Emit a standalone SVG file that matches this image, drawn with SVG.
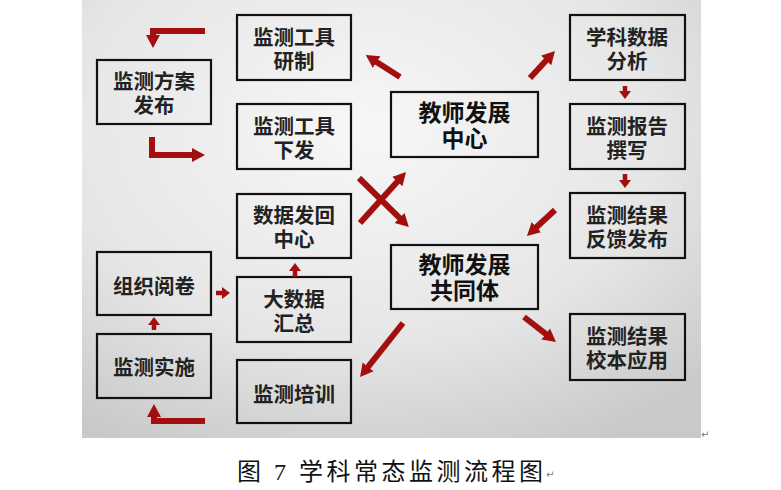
<svg xmlns="http://www.w3.org/2000/svg" width="781" height="490" viewBox="0 0 781 490">
<defs>
<radialGradient id="bg" cx="0.45" cy="0.3" r="0.8">
<stop offset="0" stop-color="#f7f7f7"/>
<stop offset="0.6" stop-color="#e6e6e6"/>
<stop offset="1" stop-color="#c9c9c9"/>
</radialGradient>
<marker id="ah" markerUnits="userSpaceOnUse" markerWidth="16" markerHeight="16" viewBox="0 0 16 16" refX="2" refY="8" orient="auto">
<path d="M0,1 L13,8 L0,15 z" fill="#a30e0e"/>
</marker>
<marker id="sm" markerUnits="userSpaceOnUse" markerWidth="10" markerHeight="14" viewBox="0 0 10 14" refX="1" refY="7" orient="auto">
<path d="M0,1 L8,7 L0,13 z" fill="#a30e0e"/>
</marker>
<style>
.box{fill:none;stroke:#111;stroke-width:2.2}
.t{font-family:"Noto Sans CJK SC","Noto Sans",sans-serif;font-weight:700;font-size:20.5px;fill:#222;text-anchor:middle}
.tb{font-family:"Noto Sans CJK SC","Noto Sans",sans-serif;font-weight:700;font-size:23px;fill:#111;text-anchor:middle}
.a{fill:none;stroke:#a30e0e;stroke-width:6;marker-end:url(#ah)}
.s{fill:none;stroke:#a30e0e;stroke-width:4.5;marker-end:url(#sm)}
.cap{font-family:"Liberation Serif","Noto Sans CJK SC",serif;font-size:24px;fill:#111}
.ret{font-family:"DejaVu Sans",sans-serif;font-size:10px;fill:#777}
</style>
</defs>
<rect x="82" y="0" width="619" height="438" fill="url(#bg)"/>

<g id="n1"><rect class="box" x="237" y="15" width="114" height="65"/><text class="t" x="294" y="45">监测工具<tspan x="294" dy="24">研制</tspan></text></g>
<g id="n2"><rect class="box" x="97" y="60" width="114" height="64"/><text class="t" x="154" y="89">监测方案<tspan x="154" dy="24">发布</tspan></text></g>
<g id="n3"><rect class="box" x="237" y="104" width="114" height="65"/><text class="t" x="294" y="134">监测工具<tspan x="294" dy="24">下发</tspan></text></g>
<g id="n4"><rect class="box" x="237" y="194" width="114" height="64"/><text class="t" x="294" y="223">数据发回<tspan x="294" dy="24">中心</tspan></text></g>
<g id="n5"><rect class="box" x="97" y="252" width="114" height="63"/><text class="t" x="154" y="294">组织阅卷</text></g>
<g id="n6"><rect class="box" x="237" y="277" width="114" height="65"/><text class="t" x="294" y="307">大数据<tspan x="294" dy="24">汇总</tspan></text></g>
<g id="n7"><rect class="box" x="97" y="334" width="114" height="64"/><text class="t" x="154" y="375">监测实施</text></g>
<g id="n8"><rect class="box" x="237" y="360" width="114" height="63"/><text class="t" x="294" y="402">监测培训</text></g>
<g id="n9"><rect class="box" x="570" y="15" width="115" height="65"/><text class="t" x="627" y="45">学科数据<tspan x="627" dy="24">分析</tspan></text></g>
<g id="n10"><rect class="box" x="391" y="92" width="147" height="65"/><text class="tb" x="464.5" y="121">教师发展<tspan x="464.5" dy="26">中心</tspan></text></g>
<g id="n11"><rect class="box" x="570" y="104" width="115" height="65"/><text class="t" x="627" y="134">监测报告<tspan x="627" dy="24">撰写</tspan></text></g>
<g id="n12"><rect class="box" x="570" y="193" width="115" height="65"/><text class="t" x="627" y="223">监测结果<tspan x="627" dy="24">反馈发布</tspan></text></g>
<g id="n13"><rect class="box" x="391" y="245" width="147" height="64"/><text class="tb" x="464.5" y="273">教师发展<tspan x="464.5" dy="26">共同体</tspan></text></g>
<g id="n14"><rect class="box" x="570" y="314" width="115" height="66"/><text class="t" x="627" y="344">监测结果<tspan x="627" dy="24">校本应用</tspan></text></g>

<g id="connectors">
<path class="a" d="M205,31 H153 V37"/>
<path class="a" d="M152,137 V155 H194"/>
<path class="a" d="M205,421 H154 V415"/>
<line class="a" x1="400" y1="77" x2="375" y2="61"/>
<line class="a" x1="530" y1="78" x2="547.5" y2="59"/>
<line class="a" x1="360" y1="223" x2="398.6" y2="180.2"/>
<line class="a" x1="359" y1="178" x2="401" y2="219.3"/>
<line class="a" x1="555" y1="210" x2="535" y2="228.5"/>
<line class="a" x1="524" y1="317" x2="547.3" y2="335.2"/>
<line class="a" x1="403" y1="323" x2="366.9" y2="368.4"/>
<line class="s" x1="625" y1="86" x2="625" y2="92"/>
<line class="s" x1="625" y1="174" x2="625" y2="181"/>
<line class="s" x1="216" y1="293" x2="223" y2="293"/>
<line class="s" x1="295" y1="277" x2="295" y2="270"/>
<line class="s" x1="154" y1="330" x2="154" y2="324"/>
</g>

<text class="ret" x="701" y="438">↵</text>
<text class="cap" x="237" y="480" textLength="306" lengthAdjust="spacing">图 7 学科常态监测流程图</text>
<text class="ret" x="546" y="478">↵</text>
</svg>
